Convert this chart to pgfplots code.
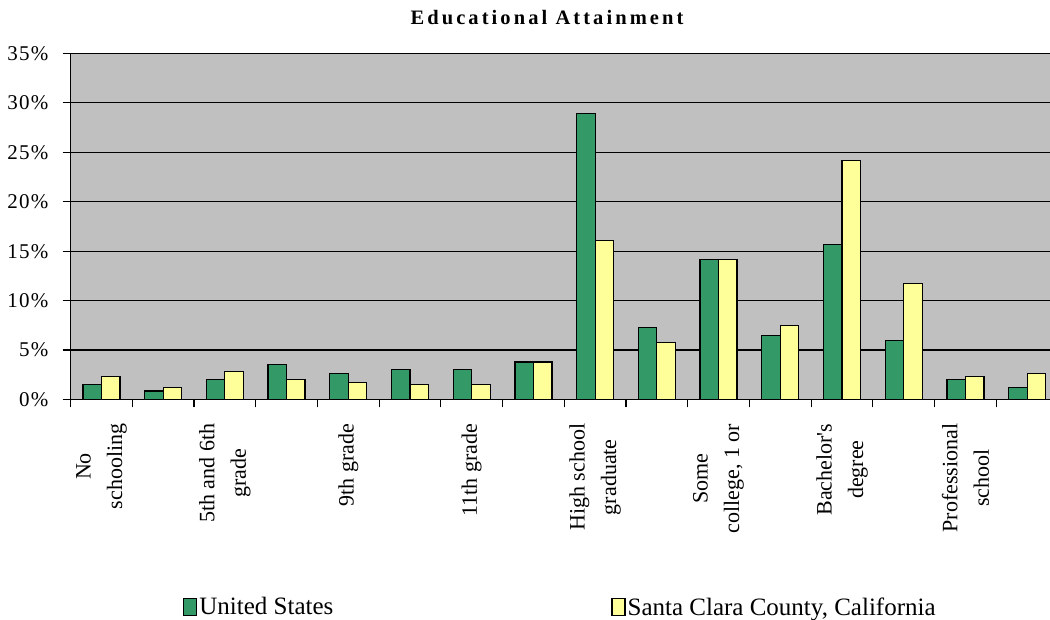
\documentclass[border=0pt]{standalone}
\usepackage{fontspec}
\setmainfont{Liberation Serif}
\newfontfamily\titlefont[LetterSpace=15]{Liberation Serif}
\newfontfamily\tickfont[LetterSpace=6]{Liberation Serif}
\usepackage{pgfplots}
\usepackage{pgfplotstable}
\pgfplotsset{compat=1.18}
\definecolor{usgreen}{HTML}{339966}
\definecolor{scyellow}{HTML}{FFFF99}
\definecolor{plotgray}{HTML}{C0C0C0}
\definecolor{bordergray}{HTML}{808080}
\pgfplotsset{sqlegend/.style={legend image code/.code={\draw[##1] (0pt,-8.5pt) rectangle (13pt,8.5pt);}}}

\pgfplotstableread{
idx us sc
0 1.5 2.3
1 0.85 1.2
2 2.0 2.85
3 3.5 2.0
4 2.65 1.7
5 3.0 1.5
6 3.0 1.5
7 3.8 3.8
8 28.9 16.1
9 7.3 5.8
10 14.15 14.15
11 6.45 7.45
12 15.65 24.2
13 5.95 11.7
14 2.0 2.3
15 1.2 2.65
}\datatable

\begin{document}
\begin{tikzpicture}[x=1pt,y=1pt]
\useasboundingbox (0,0) rectangle (1050,620);
\begin{axis}[
  at={(70.6pt,220.5pt)}, anchor=south west,
  scale only axis, width=987.4pt, height=346.1pt,
  xmin=-0.5, xmax=15.5, ymin=0, ymax=35,
  enlargelimits=false,
  ybar=0pt, bar width=18.5pt,
  axis background/.style={fill=plotgray, draw=bordergray, line width=1.4pt},
  axis x line*=bottom, axis y line*=left,
  axis line style={black, line width=1.3pt, -},
  ymajorgrids, major grid style={black, line width=1.2pt},
  tick align=outside, major tick length=8pt,
  tick style={black, line width=1.2pt},
  xtick={-0.5,0.5,...,15.5}, xticklabels={},
  extra x ticks={0,2,4,6,8,10,12,14},
  extra x tick labels={{No\\schooling},{5th and 6th\\grade},{9th grade},{11th grade},{High school\\graduate},{Some\\college, 1 or},{Bachelor\textquotesingle s\\degree},{Professional\\school}},
  extra x tick style={major tick length=0pt},
  xticklabel style={rotate=90, anchor=east, align=center, inner sep=0pt, font=\fontsize{22}{31.5}\selectfont},
  xticklabel shift=24pt,
  ytick={0,5,10,15,20,25,30,35},
  yticklabels={0\%,5\%,10\%,15\%,20\%,25\%,30\%,35\%},
  yticklabel style={anchor=east, inner sep=0pt, xshift=-14pt, font=\tickfont\fontsize{21}{21}\selectfont},
  title={Educational Attainment},
  title style={at={(0.4825,1.0676)}, anchor=base, inner sep=0pt, font=\titlefont\bfseries\fontsize{20.5}{20.5}\selectfont},
  legend columns=2,
  legend style={at={(0.1108,-0.5995)}, anchor=west, draw=none, fill=none,
    font=\fontsize{25}{25}\selectfont,
    /tikz/every even column/.append style={column sep=276pt}},
]
\addplot[fill=usgreen, draw=black, line width=1.2pt, sqlegend]
  table[x=idx, y=us]{\datatable};
\addlegendentry{United States}
\addplot[fill=scyellow, draw=black, line width=1.2pt, sqlegend]
  table[x=idx, y=sc]{\datatable};
\addlegendentry{Santa Clara County, California}
\end{axis}
\end{tikzpicture}
\end{document}
